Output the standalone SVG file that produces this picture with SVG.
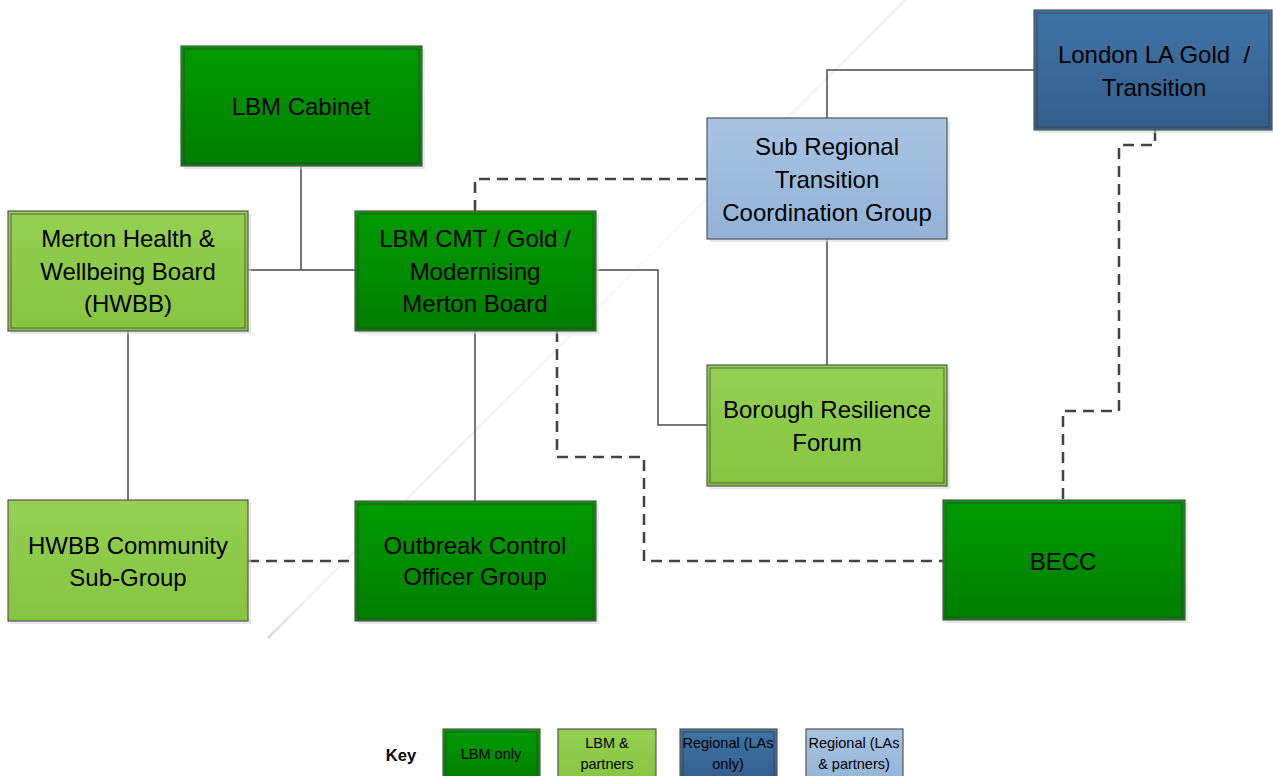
<svg xmlns="http://www.w3.org/2000/svg" width="1273" height="776" viewBox="0 0 1273 776">
<defs>
<linearGradient id="gDark" x1="0" y1="0" x2="0" y2="1"><stop offset="0" stop-color="#009a00"/><stop offset="1" stop-color="#007f00"/></linearGradient>
<linearGradient id="gLight" x1="0" y1="0" x2="0" y2="1"><stop offset="0" stop-color="#95d052"/><stop offset="1" stop-color="#86c440"/></linearGradient>
<linearGradient id="gBlue" x1="0" y1="0" x2="0" y2="1"><stop offset="0" stop-color="#3f74a6"/><stop offset="1" stop-color="#335e8b"/></linearGradient>
<linearGradient id="gPale" x1="0" y1="0" x2="0" y2="1"><stop offset="0" stop-color="#a9c4e1"/><stop offset="1" stop-color="#93b2d6"/></linearGradient>
<linearGradient id="gDiag" x1="268" y1="638" x2="905" y2="0" gradientUnits="userSpaceOnUse">
<stop offset="0" stop-color="#d4d4d4" stop-opacity="0.9"/><stop offset="0.06" stop-color="#e4e4e4" stop-opacity="0.5"/><stop offset="0.3" stop-color="#e8e8e8" stop-opacity="0.55"/><stop offset="0.6" stop-color="#f0f0f0" stop-opacity="0.4"/><stop offset="1" stop-color="#e6e6e6" stop-opacity="0.6"/></linearGradient>
</defs>
<style>
.sh{fill:#d8d8d8;opacity:0.6}
.box{stroke:#555;stroke-width:1.2}
.inner{fill:none;stroke:#3a3a3a;stroke-opacity:0.7;stroke-width:1}
.dark{fill:url(#gDark)}
.light{fill:url(#gLight)}
.blue{fill:url(#gBlue)}
.pale{fill:url(#gPale)}
.t{font-family:"Liberation Sans",Arial,sans-serif;font-size:24px;fill:#000;text-anchor:middle;dominant-baseline:central}
.k{font-family:"Liberation Sans",Arial,sans-serif;font-size:14.5px;fill:#000;text-anchor:middle;dominant-baseline:central}
.solid{fill:none;stroke:#4a4a4a;stroke-width:1.5}
.dash{fill:none;stroke:#424242;stroke-width:2.5;stroke-dasharray:11 7}
</style>
<rect width="1273" height="776" fill="#fff"/>
<line x1="268" y1="638" x2="905" y2="0" stroke="url(#gDiag)" stroke-width="2.5"/>

<g id="connectors">
<path class="solid" d="M301,166 V270"/>
<path class="solid" d="M248,270 H355"/>
<path class="solid" d="M128,331 V500"/>
<path class="solid" d="M475,331 V501"/>
<path class="solid" d="M596,270 H658 V425 H707"/>
<path class="solid" d="M827,239 V365"/>
<path class="solid" d="M827,118 V70 H1034"/>
<path class="dash" d="M475,211 V179 H707"/>
<path class="dash" d="M248,561 H355"/>
<path class="dash" d="M557,331 V457 H644 V561 H943"/>
<path class="dash" d="M1155,130 V145 H1119 V411 H1063 V500"/>
</g>

<g id="lbm-cabinet">
<rect class="sh" x="184" y="49" width="241" height="120"/>
<rect class="box dark" x="181" y="46" width="241" height="120"/>
<rect class="inner" x="184" y="49" width="235" height="114"/>
<text class="t" x="301" y="106">LBM Cabinet</text>
</g>

<g id="hwbb">
<rect class="sh" x="11" y="214" width="240" height="120"/>
<rect class="box light" x="8" y="211" width="240" height="120"/>
<rect class="inner" x="11" y="214" width="234" height="114"/>
<text class="t" x="128" y="238">Merton Health &amp;</text>
<text class="t" x="128" y="271">Wellbeing Board</text>
<text class="t" x="128" y="303">(HWBB)</text>
</g>

<g id="lbm-cmt">
<rect class="sh" x="358" y="214" width="241" height="120"/>
<rect class="box dark" x="355" y="211" width="241" height="120"/>
<rect class="inner" x="358" y="214" width="235" height="114"/>
<text class="t" x="475" y="238">LBM CMT / Gold /</text>
<text class="t" x="475" y="271">Modernising</text>
<text class="t" x="475" y="303">Merton Board</text>
</g>

<g id="sub-regional">
<rect class="sh" x="710" y="121" width="240" height="121"/>
<rect class="box pale" x="707" y="118" width="240" height="121"/>
<text class="t" x="827" y="146">Sub Regional</text>
<text class="t" x="827" y="179">Transition</text>
<text class="t" x="827" y="212">Coordination Group</text>
</g>

<g id="london-la-gold">
<rect class="sh" x="1037" y="13" width="238" height="120"/>
<rect class="box blue" x="1034" y="10" width="238" height="120"/>
<rect class="inner" x="1037" y="13" width="232" height="114"/>
<text class="t" x="1154" y="54" xml:space="preserve">London LA Gold  /</text>
<text class="t" x="1154" y="87">Transition</text>
</g>

<g id="borough-resilience">
<rect class="sh" x="710" y="368" width="240" height="121"/>
<rect class="box light" x="707" y="365" width="240" height="121"/>
<rect class="inner" x="710" y="368" width="234" height="115"/>
<text class="t" x="827" y="409">Borough Resilience</text>
<text class="t" x="827" y="442">Forum</text>
</g>

<g id="hwbb-community">
<rect class="sh" x="11" y="503" width="240" height="121"/>
<rect class="box light" x="8" y="500" width="240" height="121"/>
<text class="t" x="128" y="545">HWBB Community</text>
<text class="t" x="128" y="577">Sub-Group</text>
</g>

<g id="outbreak">
<rect class="sh" x="358" y="504" width="241" height="120"/>
<rect class="box dark" x="355" y="501" width="241" height="120"/>
<rect class="inner" x="358" y="504" width="235" height="114"/>
<text class="t" x="475" y="545">Outbreak Control</text>
<text class="t" x="475" y="576">Officer Group</text>
</g>

<g id="becc">
<rect class="sh" x="946" y="503" width="242" height="120"/>
<rect class="box dark" x="943" y="500" width="242" height="120"/>
<rect class="inner" x="946" y="503" width="236" height="114"/>
<text class="t" x="1063" y="561">BECC</text>
</g>

<g id="key">
<text x="401" y="755" font-family="'Liberation Sans',Arial,sans-serif" font-size="16.5" font-weight="bold" text-anchor="middle" dominant-baseline="central">Key</text>
<rect class="box dark" x="443" y="729" width="97" height="55"/>
<rect class="inner" x="446" y="732" width="91" height="50"/>
<text class="k" x="491" y="754">LBM only</text>
<rect class="box light" x="558" y="729" width="98" height="55"/>
<text class="k" x="607" y="743">LBM &amp;</text>
<text class="k" x="607" y="764">partners</text>
<rect class="box blue" x="680" y="729" width="97" height="55"/>
<rect class="inner" x="683" y="732" width="91" height="50"/>
<text class="k" x="728" y="743">Regional (LAs</text>
<text class="k" x="728" y="764">only)</text>
<rect class="box pale" x="806" y="729" width="97" height="55"/>
<text class="k" x="854" y="743">Regional (LAs</text>
<text class="k" x="854" y="764">&amp; partners)</text>
</g>
</svg>
